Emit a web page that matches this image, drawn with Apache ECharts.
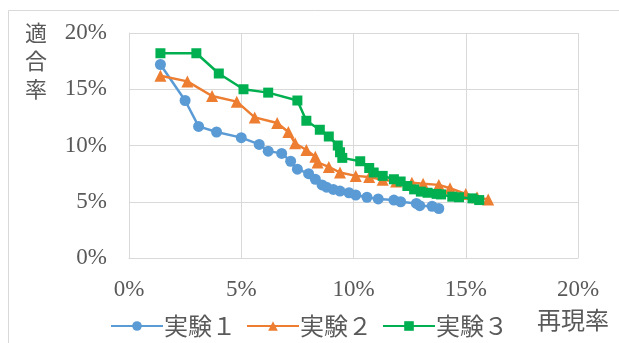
<!DOCTYPE html>
<html>
<head>
<meta charset="utf-8">
<script src="https://cdn.jsdelivr.net/npm/echarts@6/dist/echarts.min.js"></script>
<style>
html,body{margin:0;padding:0;background:#fff;}
#c{width:619px;height:343px;}
</style>
</head>
<body>
<div id="c"></div>
<script>
const seriesNames = ['実験１', '実験２', '実験３'];
const xTickLabels = ['0%', '5%', '10%', '15%', '20%'];
const yTickLabels = ['0%', '5%', '10%', '15%', '20%'];
const xAxisTitle = '再現率';
const yAxisTitle = '適合率';

// [再現率 %, 適合率 %]
const exp1 = [[1.4,17.2],[2.5,14.0],[3.1,11.7],[3.9,11.2],[5.0,10.7],[5.8,10.1],[6.2,9.5],[6.8,9.3],[7.2,8.6],[7.5,7.9],[8.0,7.5],[8.3,7.0],[8.6,6.5],[8.8,6.3],[9.1,6.1],[9.4,5.95],[9.8,5.8],[10.1,5.6],[10.6,5.4],[11.1,5.25],[11.8,5.15],[12.1,5.0],[12.8,4.85],[12.95,4.65],[13.5,4.6],[13.8,4.4]];
const exp2 = [[1.4,16.2],[2.6,15.7],[3.7,14.4],[4.8,13.9],[5.6,12.5],[6.6,12.0],[7.1,11.2],[7.4,10.2],[7.9,9.6],[8.3,9.0],[8.4,8.5],[8.9,8.1],[9.4,7.6],[10.1,7.3],[10.7,7.2],[11.3,6.95],[11.9,6.8],[12.6,6.7],[13.1,6.6],[13.8,6.5],[14.3,6.2],[15.0,5.7],[15.5,5.4],[16.0,5.2]];
const exp3 = [[1.4,18.2],[3.0,18.2],[4.0,16.4],[5.1,15.0],[6.2,14.7],[7.5,14.0],[7.9,12.2],[8.5,11.4],[8.9,10.8],[9.3,10.0],[9.4,9.4],[9.5,8.9],[10.3,8.6],[10.7,8.0],[10.9,7.6],[11.3,7.3],[11.8,7.0],[12.1,6.8],[12.4,6.4],[12.7,6.1],[13.0,5.9],[13.3,5.8],[13.7,5.7],[13.9,5.65],[14.4,5.45],[14.7,5.4],[15.3,5.3],[15.6,5.15]];

const colors = ['#5B9BD5', '#ED7D31', '#00B050'];
const symbols = ['circle', 'triangle', 'rect'];
const symbolSizes = [11, 12, 10];
const allData = [exp1, exp2, exp3];

const chart = echarts.init(document.getElementById('c'), null, {renderer: 'canvas'});
const numFont = '"Liberation Serif", "DejaVu Serif", serif';
const jpFont = '"Noto Sans CJK JP", sans-serif';
const textColor = '#595959';
const gridColor = '#d9d9d9';

chart.setOption({
  animation: false,
  backgroundColor: '#ffffff',
  grid: {left: 129, right: 41, top: 33, bottom: 85, containLabel: false},
  xAxis: {
    type: 'value', min: 0, max: 20, interval: 5,
    axisLine: {show: true, lineStyle: {color: gridColor, width: 1}},
    axisTick: {show: false},
    splitLine: {show: true, lineStyle: {color: gridColor, width: 1}},
    axisLabel: {
      margin: 20, color: textColor, fontFamily: numFont, fontSize: 23,
      formatter: v => xTickLabels[Math.round(v / 5)]
    }
  },
  yAxis: {
    type: 'value', min: 0, max: 20, interval: 5,
    axisLine: {show: true, lineStyle: {color: gridColor, width: 1}},
    axisTick: {show: false},
    splitLine: {show: true, lineStyle: {color: gridColor, width: 1}},
    axisLabel: {
      margin: 22, color: textColor, fontFamily: numFont, fontSize: 23,
      formatter: v => yTickLabels[Math.round(v / 5)]
    }
  },
  legend: {
    left: 105, top: 309,
    itemWidth: 52, itemHeight: 12, itemGap: 10,
    textStyle: {color: textColor, fontFamily: jpFont, fontSize: 24, padding: [0,0,0,-4]},
    data: seriesNames
  },
  graphic: [
    {type: 'rect', silent: true, z: -1, shape: {x: 8.5, y: 10.5, width: 700, height: 400},
     style: {fill: 'none', stroke: '#d9d9d9', lineWidth: 1}},
    {type: 'text', left: 25, top: 19, silent: true,
     style: {text: yAxisTitle.split('').join('\n'), fill: textColor, font: '22px ' + jpFont, lineHeight: 28}},
    {type: 'text', left: 537, top: 308, silent: true,
     style: {text: xAxisTitle, fill: textColor, font: '24px ' + jpFont}}
  ],
  series: allData.map((d, i) => ({
    name: seriesNames[i],
    type: 'line',
    data: d,
    symbol: symbols[i],
    symbolSize: symbolSizes[i],
    showSymbol: true,
    itemStyle: {color: colors[i]},
    lineStyle: {color: colors[i], width: 2.5},
    z: 2 + i
  }))
});
</script>
</body>
</html>
